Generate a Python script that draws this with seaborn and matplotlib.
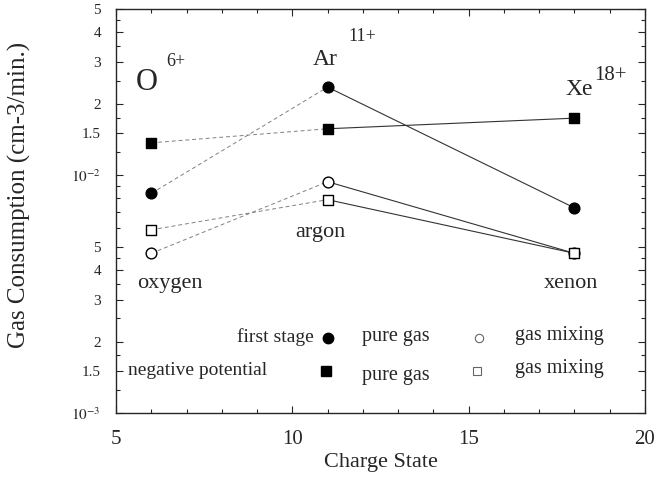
import numpy as np
import pandas as pd
import matplotlib
matplotlib.use("Agg")
import matplotlib.pyplot as plt
import seaborn as sns
from matplotlib.ticker import FixedLocator, NullFormatter

sns.set_style("ticks")
plt.rcParams['font.family'] = ['Liberation Serif', 'DejaVu Serif']
plt.rcParams['mathtext.fontset'] = 'stix'

# data
charge = [6, 11, 18]
ions = ["oxygen", "argon", "xenon"]
first_pure = [8.4e-3, 2.35e-2, 7.3e-3]
first_mix = [4.7e-3, 9.4e-3, 4.7e-3]
neg_pure = [1.37e-2, 1.57e-2, 1.74e-2]
neg_mix = [5.9e-3, 7.9e-3, 4.7e-3]

series = {
    "first stage / pure gas": (first_pure, "o", "black"),
    "first stage / gas mixing": (first_mix, "o", "white"),
    "negative potential / pure gas": (neg_pure, "s", "black"),
    "negative potential / gas mixing": (neg_mix, "s", "white"),
}

rows = []
for name, (vals, m, fc) in series.items():
    for c, v, ion in zip(charge, vals, ions):
        rows.append({"series": name, "charge": c, "value": v, "ion": ion})
df = pd.DataFrame(rows)

fig = plt.figure(figsize=(6.6, 4.82), dpi=100)
ax = fig.add_axes([0.176, 0.143, 0.801, 0.838])

for name, (vals, m, fc) in series.items():
    sub = df[df["series"] == name]
    left = sub[sub["charge"] <= 11]
    right = sub[sub["charge"] >= 11]
    # O -> Ar segment is faint/dashed in the scan, Ar -> Xe is solid
    sns.lineplot(data=left, x="charge", y="value", ax=ax, color="0.5",
                 linewidth=0.7, linestyle=(0, (4, 3)), legend=False)
    sns.lineplot(data=right, x="charge", y="value", ax=ax, color="0.2",
                 linewidth=0.8, legend=False)
    sns.scatterplot(data=sub, x="charge", y="value", ax=ax, marker=m,
                    s=60, facecolor=fc, edgecolor="black", linewidth=1.0,
                    zorder=5, legend=False)

ax.set_yscale("log")
ax.set_xlim(5, 20)
ax.set_ylim(1e-3, 5e-2)

# ticks
ax.set_xticks([5, 10, 15, 20])
ax.xaxis.set_minor_locator(FixedLocator(np.arange(5, 21, 1)))
major_y = [1e-3, 1.5e-3, 2e-3, 3e-3, 4e-3, 5e-3, 1e-2, 1.5e-2, 2e-2, 3e-2, 4e-2, 5e-2]
major_lbl = [r'$10^{-3}$', '1.5', '2', '3', '4', '5', r'$10^{-2}$', '1.5', '2', '3', '4', '5']
ax.yaxis.set_major_locator(FixedLocator(major_y))
ax.set_yticklabels(major_lbl)
minor_y = [k * 1e-3 for k in [1.25, 1.75, 2.5, 3.5, 4.5, 6, 7, 8, 9]] + \
          [k * 1e-2 for k in [1.25, 1.75, 2.5, 3.5, 4.5]]
ax.yaxis.set_minor_locator(FixedLocator(minor_y))
ax.yaxis.set_minor_formatter(NullFormatter())
ax.tick_params(which="both", direction="in", top=True, right=True, width=0.8)
ax.tick_params(which="major", length=5)
ax.tick_params(which="minor", length=3)
ax.tick_params(axis="x", labelsize=15, pad=12)
ax.tick_params(axis="y", labelsize=11, pad=11)
for s in ax.spines.values():
    s.set_linewidth(1.0)

ax.set_xlabel("Charge State", fontsize=16)
ax.xaxis.set_label_coords(0.5, -0.1)
ax.set_ylabel("Gas Consumption (cm-3/min.)", fontsize=18)
ax.yaxis.set_label_coords(-0.162, 0.54)

# element labels
tr = ax.transAxes
ax.text(0.037, 0.80, r'O', fontsize=22, transform=tr)
ax.text(0.095, 0.86, r'6+', fontsize=13, transform=tr)
ax.text(0.372, 0.862, r'Ar', fontsize=17, transform=tr)
ax.text(0.44, 0.92, r'11+', fontsize=13, transform=tr)
ax.text(0.85, 0.788, r'Xe', fontsize=17, transform=tr)
ax.text(0.905, 0.825, r'18+', fontsize=15, transform=tr)
ax.text(0.04, 0.31, "oxygen", fontsize=16, transform=tr)
ax.text(0.338, 0.435, "argon", fontsize=16, transform=tr)
ax.text(0.808, 0.31, "xenon", fontsize=16, transform=tr)

# legend block
ax.text(0.302, 0.175, "first stage", fontsize=14, ha="center", transform=tr)
ax.text(0.022, 0.094, "negative potential", fontsize=14, transform=tr)
ax.plot([0.40], [0.185], "o", ms=7.5, color="black", transform=tr)
ax.plot([0.397], [0.103], "s", ms=7.5, color="black", transform=tr)
ax.text(0.465, 0.178, "pure gas", fontsize=14.5, transform=tr)
ax.text(0.465, 0.082, "pure gas", fontsize=14.5, transform=tr)
ax.plot([0.686], [0.185], "o", ms=6, mfc="white", mec="0.4", mew=0.8, transform=tr)
ax.plot([0.682], [0.103], "s", ms=6, mfc="white", mec="0.4", mew=0.8, transform=tr)
ax.text(0.755, 0.18, "gas mixing", fontsize=14.5, transform=tr)
ax.text(0.755, 0.098, "gas mixing", fontsize=14.5, transform=tr)

fig.savefig("out.png", dpi=100)
